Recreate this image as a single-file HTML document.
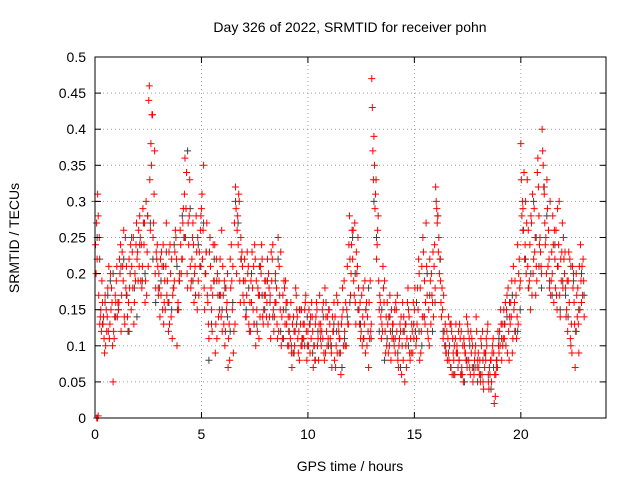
<!DOCTYPE html>
<html><head><meta charset="utf-8"><style>
html,body{margin:0;padding:0;background:#fff;}
svg{display:block;font-family:"Liberation Sans",sans-serif;}
</style></head><body>
<svg id="chart" width="640" height="480" viewBox="0 0 640 480" xmlns="http://www.w3.org/2000/svg">
<text x="350" y="32" font-size="14" text-anchor="middle" fill="#000">Day 326 of 2022, SRMTID for receiver pohn</text>
<text x="350" y="471" font-size="14" text-anchor="middle" fill="#000">GPS time / hours</text>
<text x="19" y="238" font-size="14" text-anchor="middle" fill="#000" transform="rotate(-90 19 238)">SRMTID / TECUs</text>
<g id="grid"></g>
<g id="marks"></g>
<rect x="95" y="57" width="511" height="361" fill="none" stroke="#000" stroke-width="1"/>
<g id="axes"></g>
</svg>
<script>
const xTicks=[0,5,10,15,20];
const yTicks=[0,0.05,0.1,0.15,0.2,0.25,0.3,0.35,0.4,0.45,0.5];
const yTickLabels=["0","0.05","0.1","0.15","0.2","0.25","0.3","0.35","0.4","0.45","0.5"];
const redStarts=[0,0.05,0.025,0.075], redStep=0.1, blackStarts=[0.1,0.22], blackStep=0.25;
const redA=[.30,.22,.25,.12,.14,.10,.18,.13,.16,.11,
.19,.15,.24,.21,.13,.17,.22,.15,.25,.19,
.23,.28,.18,.24,.30,.21,.26,.42,.37,.22,
.20,.17,.24,.15,.19,.13,.22,.18,.25,.16,
.26,.22,.31,.34,.24,.18,.27,.21,.15,.23,
.29,.35,.20,.16,.25,.12,.19,.22,.14,.17,
.21,.10,.16,.13,.24,.09,.32,.28,.19,.23,
.16,.14,.21,.12,.18,.24,.15,.11,.20,.13,
.17,.22,.14,.19,.12,.16,.25,.15,.11,.18,
.13,.10,.16,.09,.12,.14,.08,.15,.11,.17,
.12,.09,.14,.10,.16,.08,.13,.11,.18,.10,
.15,.09,.12,.07,.16,.11,.14,.19,.10,.13,
.17,.22,.27,.20,.15,.12,.18,.09,.14,.11,
.47,.39,.33,.28,.16,.12,.19,.10,.14,.08,
.13,.09,.17,.11,.06,.14,.10,.18,.08,.12,
.15,.11,.22,.09,.25,.13,.17,.10,.20,.14,
.32,.28,.22,.18,.12,.09,.14,.07,.11,.06,
.10,.08,.12,.05,.09,.13,.07,.11,.06,.14,
.09,.05,.12,.07,.10,.04,.08,.11,.03,.07,
.12,.08,.15,.10,.18,.13,.09,.16,.11,.20,
.38,.29,.24,.33,.19,.27,.22,.17,.36,.25,
.40,.31,.20,.26,.17,.28,.22,.15,.30,.19,
.25,.18,.12,.22,.09,.16,.20,.13,.24,.17];
const redB=[.20,.28,.14,.16,.09,.12,.21,.15,.05,.17,
.14,.22,.17,.26,.18,.12,.20,.23,.16,.27,
.26,.19,.29,.16,.23,.46,.35,.27,.18,.21,
.14,.21,.16,.27,.12,.20,.17,.23,.10,.19,
.20,.29,.25,.18,.33,.22,.16,.28,.19,.26,
.22,.15,.27,.11,.18,.24,.09,.20,.15,.26,
.13,.18,.07,.22,.15,.27,.20,.31,.25,.17,
.19,.23,.12,.16,.21,.10,.18,.14,.22,.17,
.14,.20,.11,.24,.16,.13,.21,.10,.15,.19,
.10,.14,.07,.12,.17,.09,.13,.11,.15,.08,
.15,.11,.07,.13,.10,.17,.12,.09,.14,.11,
.11,.14,.08,.17,.12,.06,.15,.10,.21,.28,
.24,.19,.13,.25,.16,.10,.13,.16,.07,.12,
.37,.29,.24,.15,.11,.18,.09,.13,.17,.11,
.10,.15,.07,.12,.16,.05,.11,.14,.09,.16,
.12,.18,.08,.21,.14,.27,.11,.19,.16,.24,
.29,.25,.16,.11,.13,.08,.10,.12,.08,.13,
.07,.11,.06,.10,.14,.08,.12,.05,.09,.07,
.06,.10,.04,.08,.13,.06,.09,.02,.07,.10,
.15,.10,.13,.17,.08,.14,.21,.12,.24,.18,
.28,.34,.20,.26,.15,.31,.23,.19,.28,.21,
.35,.24,.29,.18,.23,.16,.26,.21,.14,.27,
.20,.15,.23,.10,.18,.07,.14,.21,.16,.19];
const redC=[.24,.31,.13,.19,.11,.15,.12,.20,.10,.14,
.21,.16,.12,.19,.25,.14,.18,.21,.13,.24,
.19,.25,.21,.27,.17,.44,.38,.25,.20,.24,
.18,.23,.13,.21,.16,.24,.11,.19,.22,.15,
.24,.27,.36,.20,.28,.19,.24,.17,.25,.21,
.31,.18,.23,.13,.21,.17,.24,.11,.19,.14,
.17,.12,.20,.08,.19,.12,.29,.24,.16,.21,
.22,.17,.13,.19,.15,.22,.12,.17,.24,.15,
.19,.13,.17,.22,.14,.18,.12,.23,.17,.13,
.16,.12,.09,.14,.18,.11,.15,.10,.13,.12,
.10,.14,.12,.08,.15,.13,.10,.16,.09,.14,
.13,.07,.16,.10,.13,.09,.18,.12,.15,.24,
.20,.26,.16,.21,.13,.17,.11,.15,.12,.19,
.43,.35,.22,.19,.14,.21,.12,.16,.10,.15,
.11,.16,.08,.13,.10,.12,.07,.15,.11,.09,
.18,.13,.20,.12,.23,.16,.12,.22,.17,.21,
.30,.23,.19,.15,.10,.12,.08,.13,.09,.11,
.09,.13,.07,.11,.08,.12,.06,.10,.08,.12,
.07,.11,.05,.09,.12,.07,.05,.09,.06,.12,
.10,.13,.11,.15,.12,.16,.11,.19,.14,.22,
.33,.26,.30,.21,.24,.17,.29,.21,.32,.23,
.37,.27,.33,.22,.19,.24,.18,.29,.17,.23,
.22,.14,.19,.11,.21,.13,.17,.09,.19,.22];
const redD=[.27,.17,.15,.13,.17,.14,.11,.18,.12,.16,
.16,.20,.23,.14,.21,.16,.24,.18,.20,.22,
.21,.24,.27,.19,.28,.33,.42,.31,.23,.17,
.22,.15,.19,.17,.23,.14,.18,.26,.15,.20,
.22,.25,.29,.27,.21,.25,.20,.23,.17,.28,
.26,.20,.17,.23,.15,.19,.13,.17,.22,.12,
.19,.15,.11,.18,.21,.13,.26,.30,.22,.19,
.14,.20,.16,.23,.13,.19,.17,.21,.14,.19,
.16,.18,.23,.15,.20,.11,.17,.14,.19,.16,
.14,.11,.13,.10,.15,.12,.10,.13,.16,.10,
.13,.16,.10,.14,.11,.12,.15,.08,.12,.15,
.10,.12,.14,.09,.11,.13,.10,.16,.13,.22,
.26,.17,.23,.18,.11,.14,.19,.10,.16,.13,
.33,.31,.26,.17,.13,.16,.14,.09,.12,.13,
.15,.12,.10,.14,.08,.13,.16,.09,.13,.11,
.10,.15,.18,.14,.19,.21,.15,.13,.23,.18,
.27,.20,.14,.17,.09,.11,.13,.06,.10,.09,
.12,.06,.10,.09,.07,.11,.09,.07,.10,.08,
.08,.06,.09,.11,.05,.08,.10,.06,.08,.09,
.13,.11,.16,.09,.14,.19,.15,.17,.13,.19,
.30,.22,.27,.18,.28,.20,.25,.34,.24,.20,
.32,.25,.21,.30,.20,.26,.17,.24,.22,.18,
.23,.19,.16,.13,.20,.12,.18,.15,.21,.14];
const zeroTimes=[0.08,0.12,0.15];
const zeroValues=[0,0,0.003];
const blackA=[.25,.13,.17,.20,.15,.22,.12,.18,.24,.20,.27,.16,.19,.23,.15,.21,.28,.37,.19,.24,.27,.08,.22,.17,.18,.12,.30,.22,.15,.20,.13,.17,.19,.14,.22,.11,.12,.09,.15,.10,.13,.08,.11,.16,.10,.12,.07,.14,.25,.15,.11,.18,.30,.12,.08,.14,.11,.07,.13,.09,.16,.10,.20,.12,.28,.12,.09,.06,.08,.05,.10,.07,.06,.09,.04,.08,.11,.14,.17,.12,.26,.18,.30,.21,.32,.19,.24,.15,.17,.21,.12,.20];
const blackB=[.22,.16,.19,.14,.21,.17,.25,.14,.19,.28,.22,.18,.21,.16,.24,.19,.25,.29,.17,.21,.23,.13,.19,.15,.14,.16,.27,.19,.18,.13,.21,.15,.16,.19,.12,.15,.10,.13,.11,.14,.09,.12,.14,.10,.13,.09,.11,.16,.20,.13,.15,.11,.25,.15,.11,.12,.09,.12,.10,.13,.12,.14,.17,.16,.22,.10,.07,.09,.06,.08,.07,.05,.08,.06,.07,.11,.13,.16,.12,.15,.22,.20,.25,.18,.28,.17,.21,.19,.14,.19,.15,.17];

const NS="http://www.w3.org/2000/svg";
const X0=95,X1=606,Y0=418,Y1=57,XMAX=24,YMAX=0.5;
const xs=t=>X0+(X1-X0)*t/XMAX;
const ys=v=>Y0-(Y0-Y1)*v/YMAX;
const grid=document.getElementById('grid'),axes=document.getElementById('axes'),marks=document.getElementById('marks');
function mk(tag,attrs,parent){const e=document.createElementNS(NS,tag);for(const k in attrs)e.setAttribute(k,attrs[k]);parent.appendChild(e);return e;}
yTicks.forEach((v,i)=>{
  const y=ys(v);
  if(i>0&&i<yTicks.length-1){const g=mk('line',{x1:X0,x2:X1,y1:y,y2:y,stroke:'#a0a0a0','stroke-dasharray':'1,3'},grid);
  
  }
  const t1=mk('line',{x1:X0,x2:X0+6,y1:y,y2:y,stroke:'#000'},axes);
  
  
  const t2=mk('line',{x1:X1-6,x2:X1,y1:y,y2:y,stroke:'#000'},axes);
  
  
  const l=mk('text',{x:X0-9,y:y+5,'font-size':14,'text-anchor':'end'},axes);
  l.textContent=yTickLabels[i];
  
  
});
xTicks.forEach(v=>{
  const x=xs(v);
  if(v>0){const g=mk('line',{x1:x,x2:x,y1:Y0,y2:Y1,stroke:'#a0a0a0','stroke-dasharray':'1,3'},grid);
  
  }
  const t1=mk('line',{x1:x,x2:x,y1:Y0,y2:Y0-6,stroke:'#000'},axes);
  
  
  const t2=mk('line',{x1:x,x2:x,y1:Y1,y2:Y1+6,stroke:'#000'},axes);
  
  
  const l=mk('text',{x:x,y:Y0+21,'font-size':14,'text-anchor':'middle'},axes);
  l.textContent=String(v);
  
  
});
function plus(t,v,color,name){
  const x=xs(t),y=ys(v);
  const p=mk('path',{d:`M${x-3.5},${y}h7M${x},${y-3.5}v7`,stroke:color,'stroke-width':1,fill:'none'},marks);
  
  
}
[blackA,blackB].forEach((arr,k)=>arr.forEach((v,i)=>plus(blackStarts[k]+i*blackStep,v,'#404040','point-black')));
[redA,redB,redC,redD].forEach((arr,k)=>arr.forEach((v,i)=>plus(redStarts[k]+i*redStep,v,'#ff0000','point-red')));
zeroTimes.forEach((t,i)=>plus(t,zeroValues[i],'#ff0000','point-red-zero'));
</script>
</body></html>
